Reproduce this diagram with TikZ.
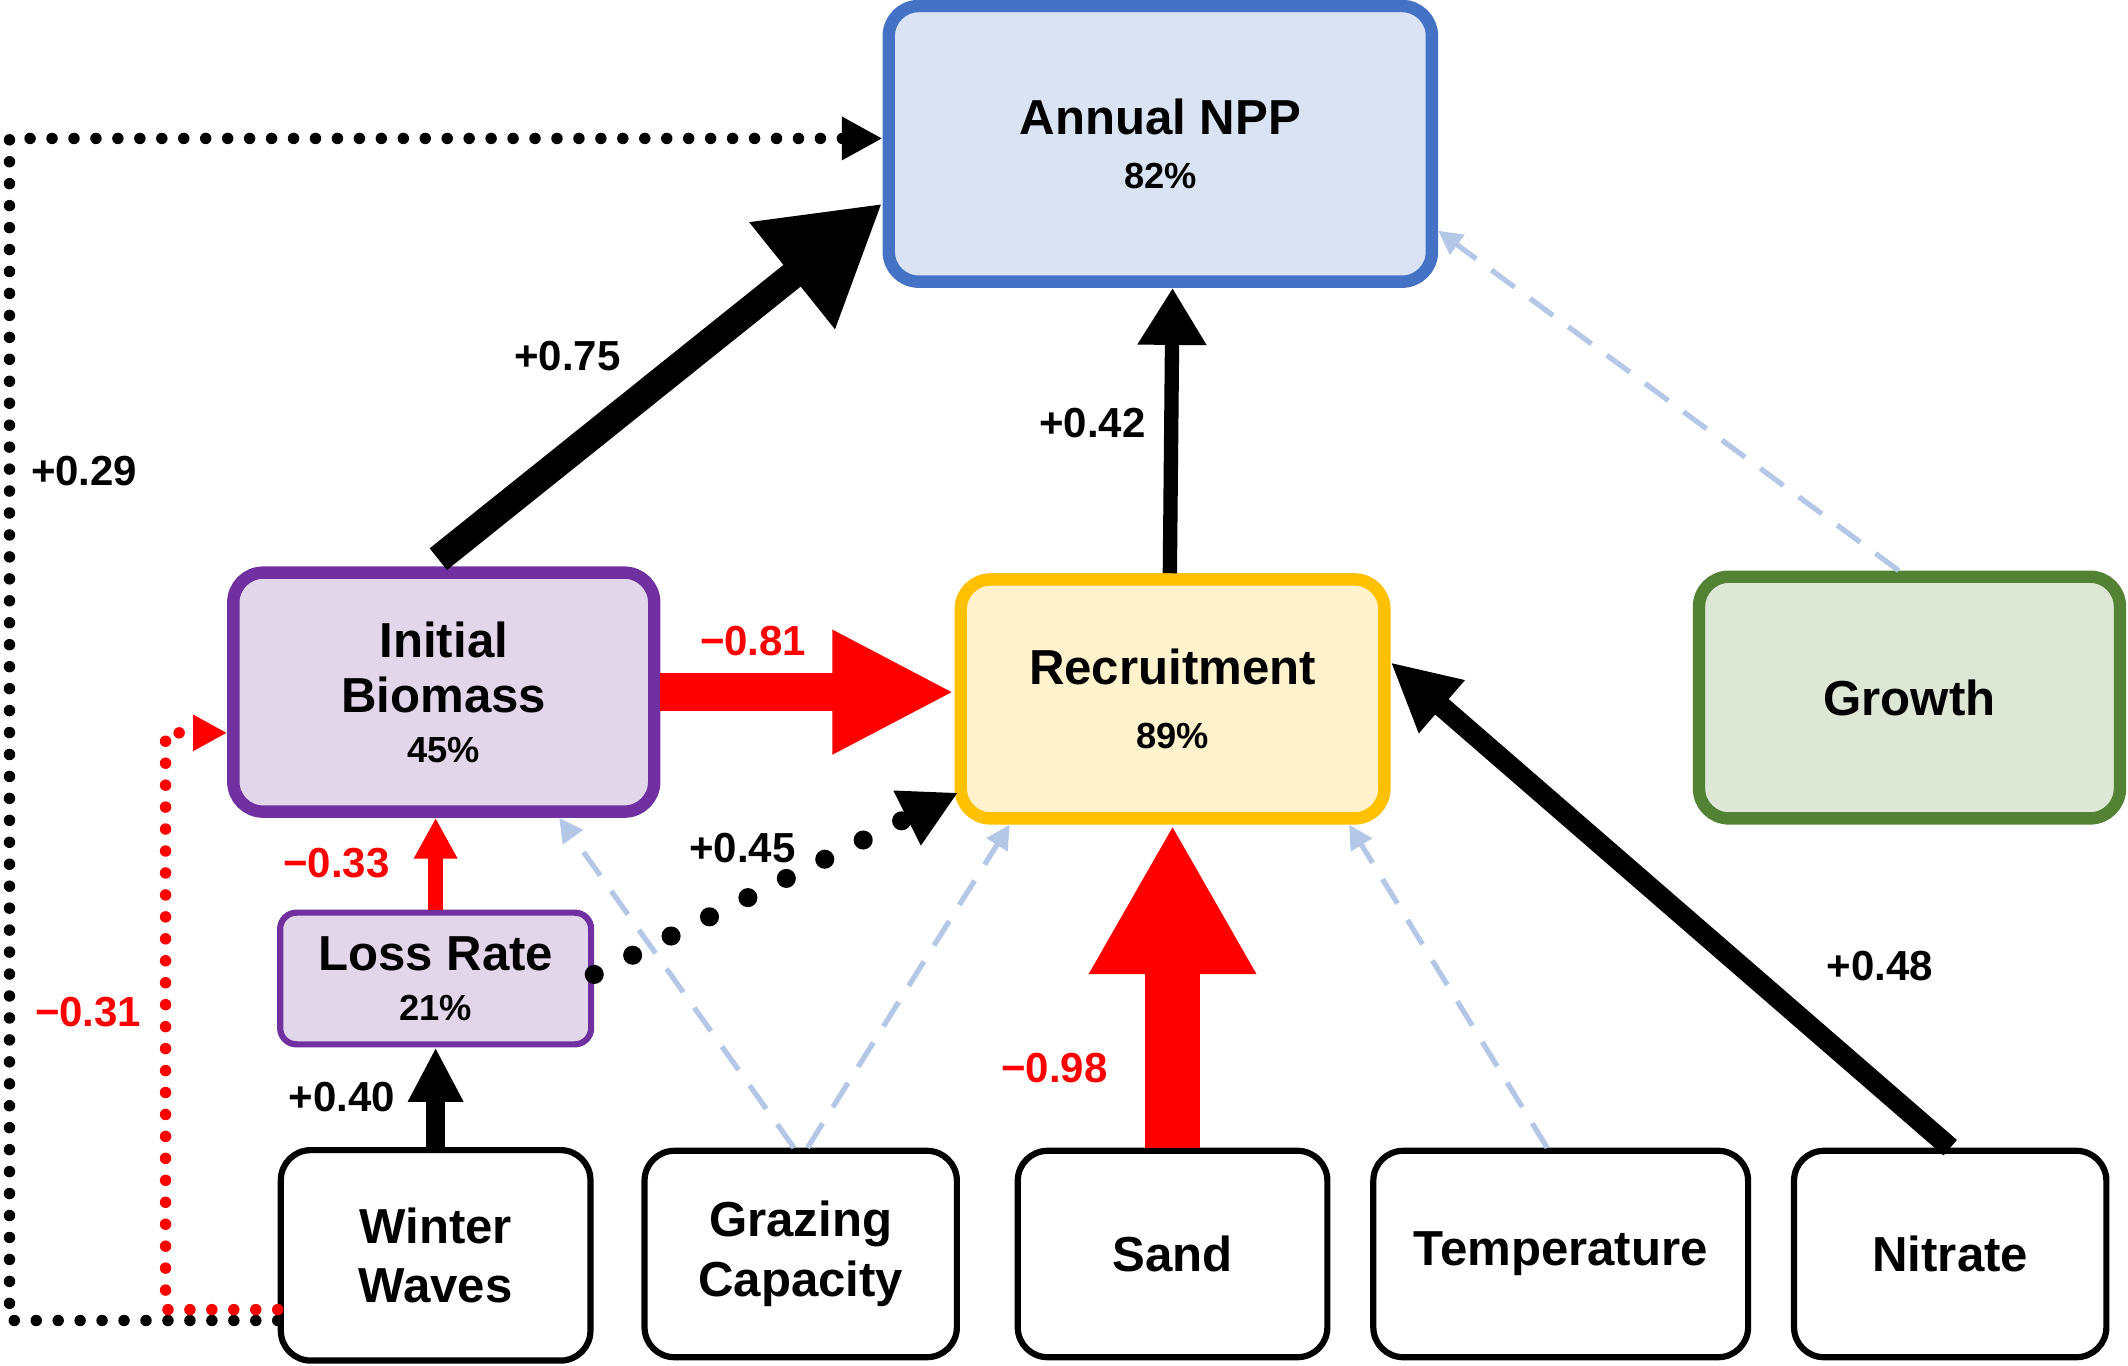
\documentclass[tikz,border=0pt]{standalone}
\usepackage{fontspec}
\setmainfont{Liberation Sans}
\usetikzlibrary{arrows.meta,calc}
\definecolor{nppb}{HTML}{4472C4}\definecolor{nppf}{HTML}{DAE3F3}
\definecolor{pur}{HTML}{7030A0}\definecolor{purf}{HTML}{E2D6EA}
\definecolor{yel}{HTML}{FFC000}\definecolor{yelf}{HTML}{FFF2CC}
\definecolor{grn}{HTML}{548235}\definecolor{grnf}{HTML}{DEE6D6}
\definecolor{lb}{HTML}{B4C7E7}\definecolor{rd}{HTML}{FF0000}
\begin{document}
\begin{tikzpicture}[x=0.01cm,y=-0.01cm,font=\bfseries,
 box/.style={draw,rectangle,rounded corners=0.22cm,align=center,line width=2.2pt,font=\fontsize{10.3}{12.5}\selectfont\bfseries},
 lab/.style={font=\fontsize{8.8}{10}\selectfont\bfseries},
 dashb/.style={draw=lb,line width=1.1pt,dash pattern=on 6pt off 4pt,-{Triangle[length=5pt,width=5pt]}},
 dotk/.style={line width=2.4pt,line cap=round,dash pattern=on 0pt off 4.6pt}]
\useasboundingbox (0,0) rectangle (1568,1006);
\node[box,draw=nppb,fill=nppf,line width=2.6pt,minimum width=4cm,minimum height=2.03cm] (npp) at (855,106) {Annual NPP\\[-1pt]{\fontsize{7.6}{9}\selectfont 82\%}};
\node[box,draw=pur,fill=purf,line width=2.6pt,minimum width=3.1cm,minimum height=1.76cm] (ib) at (327,510) {Initial\\[-1pt]Biomass\\[-2pt]{\fontsize{7.6}{9}\selectfont 45\%}};
\node[box,draw=yel,fill=yelf,line width=2.6pt,minimum width=3.12cm,minimum height=1.76cm] (rec) at (864,515) {Recruitment\\[1pt]{\fontsize{7.6}{9}\selectfont 89\%}};
\node[box,draw=grn,fill=grnf,line width=2.6pt,minimum width=3.1cm,minimum height=1.78cm] (gr) at (1407,514) {Growth};
\node[box,draw=pur,fill=purf,line width=1.3pt,rounded corners=0.12cm,minimum width=2.29cm,minimum height=0.97cm] (lr) at (321,721) {Loss Rate\\[-2pt]{\fontsize{7.6}{9}\selectfont 21\%}};
\node[box,minimum width=2.28cm,minimum height=1.55cm,line width=1.3pt] (ww) at (321,925) {Winter\\Waves};
\node[box,minimum width=2.3cm,minimum height=1.52cm,line width=1.3pt] (gc) at (590,924) {Grazing\\Capacity};
\node[box,minimum width=2.28cm,minimum height=1.52cm,line width=1.3pt] (sd) at (864,924) {Sand};
\node[box,minimum width=2.76cm,minimum height=1.52cm,line width=1.3pt] (tp) at (1150,924) {Temperature};
\node[box,minimum width=2.3cm,minimum height=1.52cm,line width=1.3pt] (ni) at (1437,924) {Nitrate};
% dashed light blue
\draw[dashb] ([xshift=-0.08cm]gr.north) -- (npp.east|-0,170);
\draw[dashb] ([xshift=-0.05cm]gc.north) -- ([xshift=0.85cm]ib.south);
\draw[dashb] ([xshift=0.05cm]gc.north) -- ([xshift=-1.2cm]rec.south);
\draw[dashb] ([xshift=-0.1cm]tp.north) -- ([xshift=1.3cm]rec.south);
% black solid
\coordinate (a1) at (323,412); \coordinate (a2) at (650,150);
\draw[line width=5.8pt,-{Triangle[length=0.85cm,width=0.95cm]}] (a1) -- (a2);
\draw[line width=3pt,-{Triangle[length=0.42cm,width=0.48cm]}] ([xshift=-0.02cm]rec.north) -- (rec.north|-npp.south);
\draw[line width=4.3pt,-{Triangle[length=0.5cm,width=0.48cm]}] (ni.north) -- (rec.east|-0,488);
\draw[line width=4pt,-{Triangle[length=0.4cm,width=0.38cm]}] (ww.north) -- (lr.south);
% red
\draw[rd,line width=8pt,-{Triangle[length=0.9cm,width=0.85cm]}] (ib.east|-0,510) -- (rec.west|-0,510);
\draw[rd,line width=11.5pt,-{Triangle[length=1.1cm,width=1.15cm]}] (sd.north) -- (rec.south);
\draw[rd,line width=3pt,-{Triangle[length=0.3cm,width=0.3cm]}] (lr.north) -- (lr.north|-ib.south);
% dotted
\draw[dotk,line width=4pt,dash pattern=on 0pt off 9pt,-{Triangle[length=0.42cm,width=0.42cm]}] (lr.east|-0,718) -- (706,584);
\coordinate (c1) at (7,973); \coordinate (c2) at (7,102);
\draw[dotk,-{Triangle[length=0.3cm,width=0.3cm]}] (ww.west|-0,973) -- (c1) -- (c2) -- (npp.west|-0,102);
\coordinate (d1) at (122,965); \coordinate (d2) at (122,540);
\draw[dotk,draw=rd,-{Triangle[length=0.25cm,width=0.25cm]},rd] (ww.west|-0,965) -- (d1) -- (d2) -- (ib.west|-0,540);
% labels
\node[lab] (l1) at (418,262) {+0.75};
\node[lab] (l2) at (805,312) {+0.42};
\node[lab] (l3) at (62,347) {+0.29};
\node[lab,rd] (l4) at (555,472) {−0.81};
\node[lab] (l5) at (547,625) {+0.45};
\node[lab,rd] (l6) at (248,636) {−0.33};
\node[lab,rd] (l7) at (65,746) {−0.31};
\node[lab] (l8) at (252,808) {+0.40};
\node[lab,rd] (l9) at (777,787) {−0.98};
\node[lab] (l10) at (1385,712) {+0.48};
\end{tikzpicture}
\end{document}
